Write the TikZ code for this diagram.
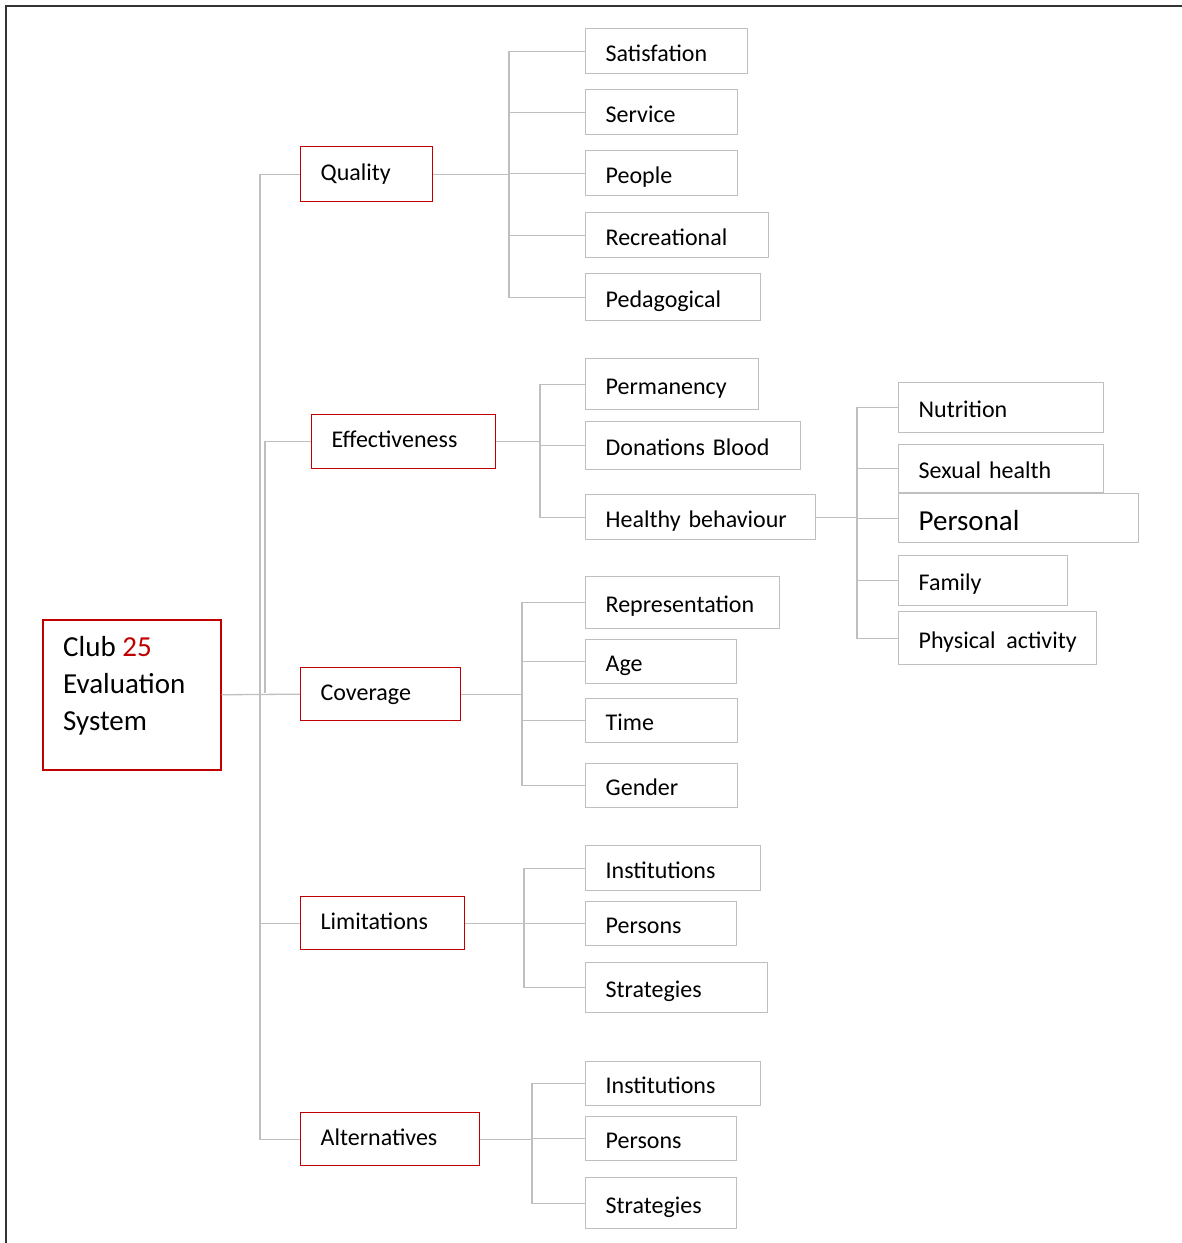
\documentclass[tikz,border=0pt]{standalone}
\usepackage{fontspec}
\setmainfont{Carlito}
\definecolor{dred}{HTML}{C00000}
\definecolor{lgray}{HTML}{BFBFBF}
\begin{document}
\begin{tikzpicture}[x=1pt,y=-1pt,
  base/.style={rectangle, anchor=north west, inner xsep=20pt, inner ysep=0pt, align=left,
    text height=20pt, text depth=0pt,
    font=\fontsize{24}{28}\selectfont, line width=1.3pt},
  cat/.style={base, draw=dred, text height=16pt, text depth=4pt},
  leaf/.style={base, draw=lgray},
  conn/.style={draw=lgray, line width=1.3pt}]
\useasboundingbox (0,0) rectangle (1182,1243);
\draw[line width=1.6pt, draw=black!80] (6,1243) -- (6,6) -- (1182,6);

% root
\node[draw=dred, line width=1.5pt, anchor=north west, minimum width=178, minimum height=150, inner sep=0pt] (root) at (42,619) {};
\node[anchor=north west, align=left, inner sep=0pt, font=\fontsize{29}{37}\selectfont] (rootlbl) at (63,636) {Club \textcolor{dred}{25}\\Evaluation\\System};

% categories
\node[cat, text width=92, minimum height=55] (qual) at (300,146) {Quality};
\node[cat, text width=144, minimum height=54] (eff) at (311,414) {Effectiveness};
\node[cat, text width=120, minimum height=53] (cov) at (300,667) {Coverage};
\node[cat, text width=124, minimum height=53] (lim) at (300,896) {Limitations};
\node[cat, text width=139, minimum height=53] (alt) at (300,1112) {Alternatives};

% quality leaves
\node[leaf, text width=122, minimum height=45] (sat) at (585,28) {Satisfation};
\node[leaf, text width=112, minimum height=45] (ser) at (585,89) {Service};
\node[leaf, text width=112, minimum height=45] (peo) at (585,150) {People};
\node[leaf, text width=143, minimum height=45] (rec) at (585,212) {Recreational};
\node[leaf, text width=135, minimum height=47] (ped) at (585,273) {Pedagogical};

% effectiveness leaves
\node[leaf, text width=133, minimum height=51] (perm) at (585,358) {Permanency};
\node[leaf, text width=175, minimum height=48] (don) at (585,421) {Donations Blood};
\node[leaf, text width=190, minimum height=45] (hb) at (585,494) {Healthy behaviour};

% healthy behaviour leaves
\node[leaf, text width=165, minimum height=50] (nut) at (898,382) {Nutrition};
\node[leaf, text width=165, minimum height=48] (sex) at (898,444) {Sexual health};
\node[leaf, text width=200, minimum height=49, text height=24pt, text depth=0pt, font=\fontsize{29}{34}\selectfont] (pers) at (898,493) {Personal};
\node[leaf, text width=129, minimum height=50] (fam) at (898,555) {Family};
\node[leaf, text width=158, minimum height=53] (phy) at (898,611) {\mbox{Physical\hspace{0.45em}activity}};

% coverage leaves
\node[leaf, text width=154, minimum height=52] (rep) at (585,576) {Representation};
\node[leaf, text width=111, minimum height=44] (age) at (585,639) {Age};
\node[leaf, text width=112, minimum height=44] (time) at (585,698) {Time};
\node[leaf, text width=112, minimum height=44] (gen) at (585,763) {Gender};

% limitations leaves
\node[leaf, text width=135, minimum height=45] (inst1) at (585,845) {Institutions};
\node[leaf, text width=111, minimum height=44] (pers1) at (585,901) {Persons};
\node[leaf, text width=142, minimum height=50] (str1) at (585,962) {Strategies};

% alternatives leaves
\node[leaf, text width=135, minimum height=44] (inst2) at (585,1061) {Institutions};
\node[leaf, text width=111, minimum height=44] (pers2) at (585,1116) {Persons};
\node[leaf, text width=111, minimum height=51] (str2) at (585,1177) {Strategies};

% junction coordinates
\coordinate (tr) at (260,693);
\coordinate (tr2) at (265,693);
\coordinate (qx) at (509,0);
\coordinate (ex) at (540,0);
\coordinate (hx) at (857,0);
\coordinate (cx) at (522,0);
\coordinate (lx) at (524,0);
\coordinate (ax) at (532,0);

% trunk
\draw[conn] (root.east) -- (cov.west);
\draw[conn] (qual.west) -- (qual.west -| tr) -- (alt.west -| tr) -- (alt.west);
\draw[conn] (lim.west) -- (lim.west -| tr);
\draw[conn] (eff.west) -| (tr2);

% quality
\draw[conn] (qual.east) -- (qual.east -| qx);
\foreach \c in {sat,ser,peo,rec,ped} \draw[conn] (qual.east -| qx) |- (\c.west);

% effectiveness
\draw[conn] (eff.east) -- (eff.east -| ex);
\foreach \c in {perm,don,hb} \draw[conn] (eff.east -| ex) |- (\c.west);

% healthy behaviour
\draw[conn] (hb.east) -- (hb.east -| hx);
\foreach \c in {nut,sex,pers,fam,phy} \draw[conn] (hb.east -| hx) |- (\c.west);

% coverage
\draw[conn] (cov.east) -- (cov.east -| cx);
\foreach \c in {rep,age,time,gen} \draw[conn] (cov.east -| cx) |- (\c.west);

% limitations
\draw[conn] (lim.east) -- (lim.east -| lx);
\foreach \c in {inst1,pers1,str1} \draw[conn] (lim.east -| lx) |- (\c.west);

% alternatives
\draw[conn] (alt.east) -- (alt.east -| ax);
\foreach \c in {inst2,pers2,str2} \draw[conn] (alt.east -| ax) |- (\c.west);
\end{tikzpicture}
\end{document}
